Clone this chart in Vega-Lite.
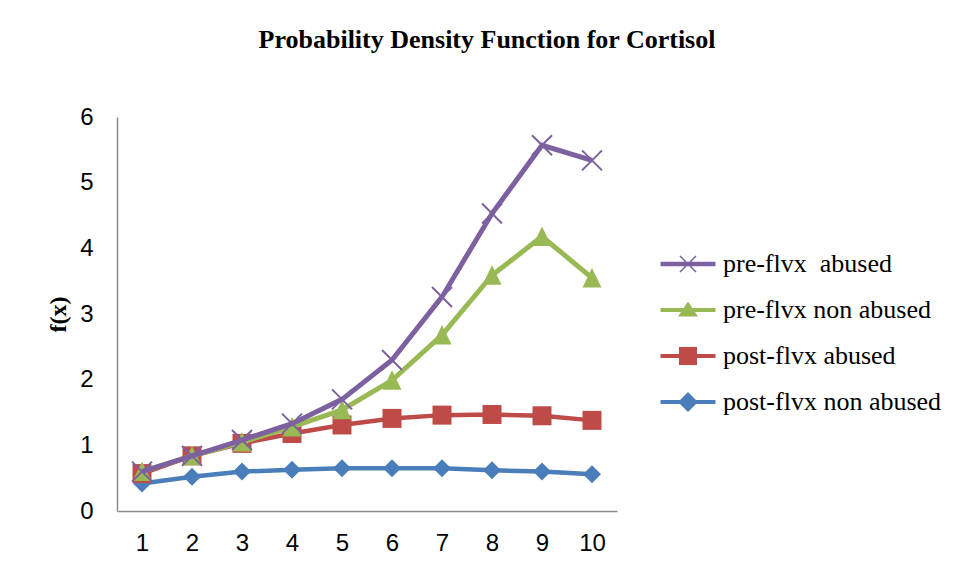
{
  "$schema": "https://vega.github.io/schema/vega-lite/v6.json",
  "width": 500,
  "height": 394,
  "autosize": {"type": "none"},
  "padding": {"left": 117, "top": 117, "right": 343, "bottom": 66},
  "background": "white",
  "title": {
    "text": "Probability Density Function for Cortisol",
    "font": "Liberation Serif",
    "fontSize": 26,
    "fontWeight": "bold",
    "color": "#000000",
    "anchor": "middle",
    "frame": "group",
    "dx": 120,
    "offset": 52
  },
  "config": {
    "view": {"stroke": null},
    "axis": {
      "grid": false,
      "ticks": false,
      "tickSize": 0,
      "domainColor": "#8c8c8c",
      "domainWidth": 1.5,
      "labelFont": "Liberation Sans",
      "labelFontSize": 24,
      "labelColor": "#000000",
      "titleFont": "Liberation Serif",
      "titleFontSize": 24,
      "titleFontWeight": "bold",
      "titleColor": "#000000"
    }
  },
  "data": {
    "values": [
      {"x": 1, "series": "post-flvx non abused", "y": 0.42},
      {"x": 2, "series": "post-flvx non abused", "y": 0.52},
      {"x": 3, "series": "post-flvx non abused", "y": 0.60},
      {"x": 4, "series": "post-flvx non abused", "y": 0.63},
      {"x": 5, "series": "post-flvx non abused", "y": 0.65},
      {"x": 6, "series": "post-flvx non abused", "y": 0.65},
      {"x": 7, "series": "post-flvx non abused", "y": 0.65},
      {"x": 8, "series": "post-flvx non abused", "y": 0.62},
      {"x": 9, "series": "post-flvx non abused", "y": 0.60},
      {"x": 10, "series": "post-flvx non abused", "y": 0.56},
      {"x": 1, "series": "post-flvx abused", "y": 0.57},
      {"x": 2, "series": "post-flvx abused", "y": 0.84},
      {"x": 3, "series": "post-flvx abused", "y": 1.03},
      {"x": 4, "series": "post-flvx abused", "y": 1.18},
      {"x": 5, "series": "post-flvx abused", "y": 1.31},
      {"x": 6, "series": "post-flvx abused", "y": 1.41},
      {"x": 7, "series": "post-flvx abused", "y": 1.46},
      {"x": 8, "series": "post-flvx abused", "y": 1.47},
      {"x": 9, "series": "post-flvx abused", "y": 1.45},
      {"x": 10, "series": "post-flvx abused", "y": 1.38},
      {"x": 1, "series": "pre-flvx non abused", "y": 0.60},
      {"x": 2, "series": "pre-flvx non abused", "y": 0.84},
      {"x": 3, "series": "pre-flvx non abused", "y": 1.05},
      {"x": 4, "series": "pre-flvx non abused", "y": 1.28},
      {"x": 5, "series": "pre-flvx non abused", "y": 1.54},
      {"x": 6, "series": "pre-flvx non abused", "y": 1.99},
      {"x": 7, "series": "pre-flvx non abused", "y": 2.68},
      {"x": 8, "series": "pre-flvx non abused", "y": 3.59},
      {"x": 9, "series": "pre-flvx non abused", "y": 4.18},
      {"x": 10, "series": "pre-flvx non abused", "y": 3.55},
      {"x": 1, "series": "pre-flvx\u00a0 abused", "y": 0.60},
      {"x": 2, "series": "pre-flvx\u00a0 abused", "y": 0.84},
      {"x": 3, "series": "pre-flvx\u00a0 abused", "y": 1.08},
      {"x": 4, "series": "pre-flvx\u00a0 abused", "y": 1.33},
      {"x": 5, "series": "pre-flvx\u00a0 abused", "y": 1.70},
      {"x": 6, "series": "pre-flvx\u00a0 abused", "y": 2.30},
      {"x": 7, "series": "pre-flvx\u00a0 abused", "y": 3.26},
      {"x": 8, "series": "pre-flvx\u00a0 abused", "y": 4.53},
      {"x": 9, "series": "pre-flvx\u00a0 abused", "y": 5.57},
      {"x": 10, "series": "pre-flvx\u00a0 abused", "y": 5.34}
    ]
  },
  "encoding": {
    "x": {
      "field": "x",
      "type": "ordinal",
      "scale": {"paddingInner": 0, "paddingOuter": 0},
      "axis": {"title": null, "labelAngle": 0, "labelPadding": 20}
    },
    "y": {
      "field": "y",
      "type": "quantitative",
      "scale": {"domain": [0, 6], "nice": false},
      "axis": {"title": "f(x)", "values": [0, 1, 2, 3, 4, 5, 6], "labelPadding": 24, "titlePadding": 9}
    }
  },
  "layer": [
    {
      "transform": [{"filter": "datum.series == 'post-flvx non abused'"}],
      "mark": {"type": "line", "color": "#4a7ebb", "strokeWidth": 4.5}
    },
    {
      "transform": [{"filter": "datum.series == 'post-flvx non abused'"}],
      "mark": {"type": "point", "shape": "diamond", "size": 324, "filled": true, "color": "#4a7ebb", "opacity": 1}
    },
    {
      "transform": [{"filter": "datum.series == 'post-flvx abused'"}],
      "mark": {"type": "line", "color": "#be4b48", "strokeWidth": 4.5}
    },
    {
      "transform": [{"filter": "datum.series == 'post-flvx abused'"}],
      "mark": {"type": "point", "shape": "square", "size": 361, "filled": true, "color": "#be4b48", "opacity": 1}
    },
    {
      "transform": [{"filter": "datum.series == 'pre-flvx non abused'"}],
      "mark": {"type": "line", "color": "#98b954", "strokeWidth": 5}
    },
    {
      "transform": [{"filter": "datum.series == 'pre-flvx non abused'"}],
      "mark": {"type": "point", "shape": "M0,-1L-0.95,0.95L0.95,0.95Z", "size": 400, "filled": true, "color": "#98b954", "opacity": 1}
    },
    {
      "transform": [{"filter": "datum.series == 'pre-flvx\u00a0 abused'"}],
      "mark": {"type": "line", "color": "#7d60a0", "strokeWidth": 5}
    },
    {
      "transform": [{"filter": "datum.series == 'pre-flvx\u00a0 abused'"}],
      "mark": {"type": "point", "shape": "M-1,-1L1,1M-1,1L1,-1", "size": 400, "filled": false, "color": "#7d60a0", "strokeWidth": 2, "opacity": 1}
    },
    {
      "mark": {"type": "point", "filled": true, "opacity": 0, "size": 400, "strokeWidth": 0},
      "encoding": {
        "color": {
          "field": "series",
          "type": "nominal",
          "scale": {
            "domain": ["pre-flvx\u00a0 abused", "pre-flvx non abused", "post-flvx abused", "post-flvx non abused"],
            "range": ["#7d60a0", "#98b954", "#be4b48", "#4a7ebb"]
          },
          "legend": {
            "title": null,
            "orient": "none",
            "legendX": 558,
            "legendY": 134,
            "padding": 0,
            "symbolSize": 400,
            "symbolOpacity": 1,
            "symbolStrokeWidth": 0,
            "labelOffset": 22,
            "rowPadding": 20,
            "labelFont": "Liberation Serif",
            "labelFontSize": 26,
            "labelColor": "#000000",
            "labelLimit": 400
          }
        },
        "shape": {
          "field": "series",
          "type": "nominal",
          "scale": {
            "domain": ["pre-flvx\u00a0 abused", "pre-flvx non abused", "post-flvx abused", "post-flvx non abused"],
            "range": [
              "M-2.75,-0.22L-2.75,0.22L2.75,0.22L2.75,-0.22ZM-0.853,-0.747L0.747,0.853L0.853,0.747L-0.747,-0.853ZM-0.853,0.747L-0.747,0.853L0.853,-0.747L0.747,-0.853Z",
              "M-2.75,-0.2L-2.75,0.2L2.75,0.2L2.75,-0.2ZM0,-0.85L-1,0.65L1,0.65Z",
              "M-2.75,-0.2L-2.75,0.2L2.75,0.2L2.75,-0.2ZM-0.9,-0.9L-0.9,0.9L0.9,0.9L0.9,-0.9Z",
              "M-2.75,-0.2L-2.75,0.2L2.75,0.2L2.75,-0.2ZM0,-1L-1,0L0,1L1,0Z"
            ]
          },
          "legend": {
            "title": null,
            "orient": "none",
            "legendX": 558,
            "legendY": 134,
            "padding": 0,
            "symbolSize": 400,
            "symbolOpacity": 1,
            "symbolStrokeWidth": 0,
            "labelOffset": 22,
            "rowPadding": 20,
            "labelFont": "Liberation Serif",
            "labelFontSize": 26,
            "labelColor": "#000000",
            "labelLimit": 400
          }
        }
      }
    }
  ]
}
